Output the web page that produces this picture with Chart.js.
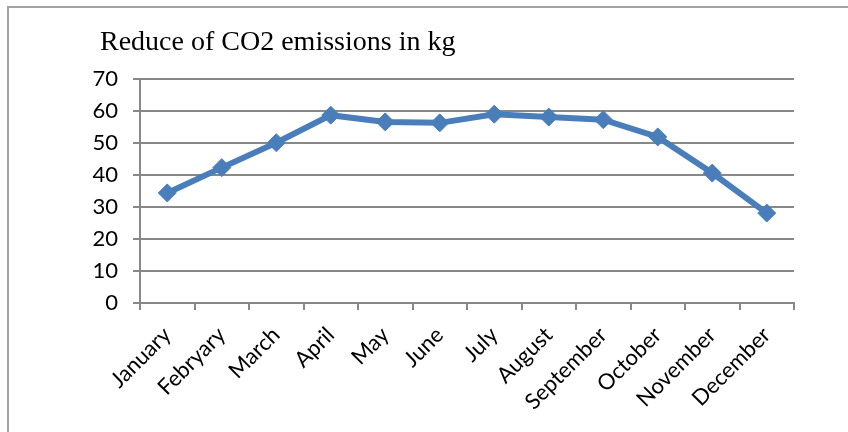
<!DOCTYPE html>
<html>
<head>
<meta charset="utf-8">
<script src="https://cdn.jsdelivr.net/npm/chart.js@4/dist/chart.umd.min.js"></script>
<style>
  html, body { margin: 0; padding: 0; background: #fff; }
  #wrap { position: relative; width: 848px; height: 432px; overflow: hidden; }
  #frame { position: absolute; left: 7px; top: 6px; width: 900px; height: 500px; border: 2px solid #a3a3a3; box-sizing: border-box; }
  canvas { position: absolute; left: 0; top: 0; }
</style>
</head>
<body>
<div id="wrap">
  <div id="frame"></div>
  <canvas id="co2Chart" width="848" height="432"></canvas>
</div>
<script>
const months = ['January', 'Febryary', 'March', 'April', 'May', 'June', 'July', 'August', 'September', 'October', 'November', 'December'];
const co2Reduce = [34.4, 42.3, 50.1, 58.7, 56.6, 56.3, 59.0, 58.1, 57.3, 51.9, 40.6, 28.1];
const yTicks = [0, 10, 20, 30, 40, 50, 60, 70];
const chartTitle = 'Reduce of CO2 emissions in kg';

const lineBlue = '#4a7ebb';
const axisGray = '#888888';
const labelFont = { family: 'Lato, "Open Sans", sans-serif', size: 22 };

// title sits a bit right of the y labels, so draw it here
const titleText = {
  id: 'titleText',
  afterDraw(chart) {
    const ctx = chart.ctx;
    ctx.save();
    ctx.font = '28px "Liberation Serif", "Times New Roman", serif';
    ctx.fillStyle = '#000';
    ctx.textBaseline = 'alphabetic';
    ctx.fillText(chartTitle, 100, 50);
    ctx.restore();
  }
};

new Chart(document.getElementById('co2Chart'), {
  type: 'line',
  data: {
    labels: months,
    datasets: [{
      data: co2Reduce,
      borderColor: lineBlue,
      backgroundColor: lineBlue,
      borderWidth: 6,
      pointStyle: 'rectRot',
      pointRadius: 9,
      pointBorderWidth: 1,
      pointBorderColor: lineBlue,
      pointBackgroundColor: lineBlue,
      tension: 0
    }]
  },
  options: {
    responsive: false,
    animation: false,
    layout: { padding: { left: 84, right: 54, top: 79, bottom: 0 } },
    plugins: {
      legend: { display: false },
      tooltip: { enabled: false },
      title: { display: false }
    },
    scales: {
      x: {
        offset: true,
        grid: { display: true, drawOnChartArea: false, drawTicks: true, offset: true, tickLength: 7, color: axisGray, lineWidth: 2 },
        border: { display: true, color: axisGray, width: 2 },
        ticks: { autoSkip: false, maxRotation: 45, minRotation: 45, color: '#000', font: labelFont, padding: 12 },
        afterFit: s => { s.height = 129; }
      },
      y: {
        min: 0,
        max: 70,
        afterBuildTicks: s => { s.ticks = yTicks.map(v => ({ value: v })); },
        grid: { color: axisGray, lineWidth: 2, tickLength: 7 },
        border: { display: true, color: axisGray, width: 2 },
        ticks: { color: '#000', font: labelFont, padding: 15 },
        afterFit: s => { s.width = 56; }
      }
    }
  },
  plugins: [titleText]
});
</script>
</body>
</html>
